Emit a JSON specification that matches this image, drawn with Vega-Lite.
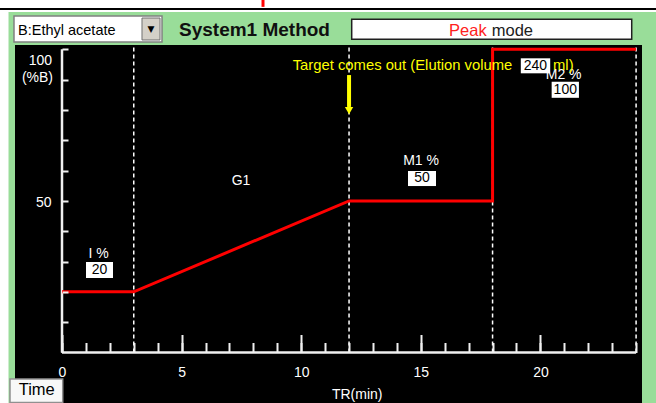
{
  "$schema": "https://vega.github.io/schema/vega-lite/v6.json",
  "width": 627,
  "height": 358,
  "autosize": "none",
  "padding": {"left": 15, "top": 45, "right": 14, "bottom": 0},
  "background": "white",
  "config": {"view": {"stroke": null}, "font": "Liberation Sans"},
  "layer": [
    {
      "data": {"values": [{}]},
      "mark": {"type": "rect", "color": "#99dd99"},
      "encoding": {
        "x": {"datum": -2.236, "type": "quantitative", "scale": {"domain": [-1.965, 24.247], "nice": false, "zero": false}, "axis": null},
        "x2": {"datum": 25},
        "y": {"datum": 112.3, "type": "quantitative", "scale": {"domain": [-16.66, 101.42], "nice": false, "zero": false}, "axis": null},
        "y2": {"datum": -17}
      }
    },
    {
      "data": {"values": [{}]},
      "mark": {"type": "rule", "color": "black", "strokeWidth": 2},
      "encoding": {
        "x": {"datum": -2.7, "type": "quantitative", "axis": null},
        "x2": {"datum": 25},
        "y": {"datum": 113.29, "type": "quantitative", "axis": null}
      }
    },
    {
      "data": {"values": [{}]},
      "mark": {"type": "rule", "color": "#ff0000", "strokeWidth": 3},
      "encoding": {
        "x": {"datum": 8.403, "type": "quantitative", "axis": null},
        "y": {"datum": 116.5, "type": "quantitative", "axis": null},
        "y2": {"datum": 114.0}
      }
    },
    {
      "data": {"values": [{}]},
      "mark": {"type": "rect", "color": "black"},
      "encoding": {
        "x": {"datum": -1.965, "type": "quantitative", "axis": null},
        "x2": {"datum": 24.247},
        "y": {"datum": 101.42, "type": "quantitative", "axis": null},
        "y2": {"datum": -17}
      }
    },
    {
      "data": {"values": [{"t": 3}, {"t": 12}, {"t": 18}, {"t": 24}]},
      "mark": {"type": "rule", "color": "white", "strokeWidth": 1.5, "strokeDash": [4, 3]},
      "encoding": {
        "x": {
          "field": "t", "type": "quantitative",
          "axis": {
            "orient": "top", "offset": -307.5, "domain": false, "grid": false, "labels": false,
            "values": [0,1,2,3,4,5,6,7,8,9,10,11,12,13,14,15,16,17,18,19,20,21,22,23,24],
            "tickSize": 10, "tickColor": "#f0f0f0", "tickWidth": 2,
            "title": null, "zindex": 1
          }
        },
        "y": {
          "datum": 0, "type": "quantitative",
          "axis": {
            "orient": "right", "offset": -580, "domain": false, "grid": false, "labels": false,
            "values": [10,20,30,40,50,60,70,80,90,100],
            "tickSize": 6, "tickColor": "#f0f0f0", "tickWidth": 2,
            "title": null, "zindex": 1
          }
        },
        "y2": {"datum": 101.4}
      }
    },
    {
      "data": {"values": [{}]},
      "mark": {"type": "rule", "color": "#f0f0f0", "strokeWidth": 2.5},
      "encoding": {
        "x": {"datum": 0, "type": "quantitative", "axis": null},
        "x2": {"datum": 24},
        "y": {"datum": 0, "type": "quantitative", "axis": null}
      }
    },
    {
      "data": {"values": [{}]},
      "mark": {"type": "rule", "color": "#f0f0f0", "strokeWidth": 2.5},
      "encoding": {
        "x": {"datum": 0, "type": "quantitative", "axis": null},
        "y": {"datum": 0, "type": "quantitative", "axis": null},
        "y2": {"datum": 100}
      }
    },
    {
      "data": {"values": [
        {"i": 0, "t": 0, "pct": 20},
        {"i": 1, "t": 3, "pct": 20},
        {"i": 2, "t": 12, "pct": 50},
        {"i": 3, "t": 18, "pct": 50},
        {"i": 4, "t": 18, "pct": 100},
        {"i": 5, "t": 24, "pct": 100}
      ]},
      "mark": {"type": "line", "color": "#ff0000", "strokeWidth": 3},
      "encoding": {
        "order": {"field": "i", "type": "quantitative"},
        "x": {
          "field": "t", "type": "quantitative",
          "scale": {"domain": [-1.965, 24.247], "nice": false, "zero": false},
          "axis": {
            "orient": "bottom", "offset": -50.5, "domain": false, "grid": false,
            "values": [0, 5, 10, 15, 20],
            "tickSize": -18, "tickColor": "#f0f0f0", "tickWidth": 2,
            "labelColor": "white", "labelFontSize": 14, "labelPadding": 31,
            "labelOverlap": false, "labelFlush": false, "labelBound": false,
            "title": "TR(min)", "titleColor": "white", "titleFontSize": 14, "titleFontWeight": "normal",
            "titleX": 341.7, "titleY": 41.5, "titleBaseline": "middle", "titleAnchor": "middle",
            "zindex": 1
          }
        },
        "y": {
          "field": "pct", "type": "quantitative",
          "scale": {"domain": [-16.66, 101.42], "nice": false, "zero": false},
          "axis": {
            "orient": "left", "offset": -47, "domain": false, "grid": false, "ticks": false,
            "values": [50],
            "labelColor": "white", "labelFontSize": 14, "labelPadding": 11, "labelOffset": 1.5,
            "labelOverlap": false, "labelFlush": false, "labelBound": false,
            "title": null,
            "zindex": 1
          }
        }
      }
    },
    {
      "data": {"values": [
        {"label": "100", "t": -0.418, "v": 96.14},
        {"label": "(%B)", "t": -0.376, "v": 90.53}
      ]},
      "mark": {"type": "text", "color": "white", "fontSize": 14, "baseline": "middle", "align": "right"},
      "encoding": {
        "x": {"field": "t", "type": "quantitative", "axis": null},
        "y": {"field": "v", "type": "quantitative", "axis": null},
        "text": {"field": "label"}
      }
    },
    {
      "data": {"values": [{}]},
      "mark": {"type": "rule", "color": "#ffff00", "strokeWidth": 4},
      "encoding": {
        "x": {"datum": 12, "type": "quantitative", "axis": null},
        "y": {"datum": 91.5, "type": "quantitative", "axis": null},
        "y2": {"datum": 81}
      }
    },
    {
      "data": {"values": [{}]},
      "mark": {"type": "point", "shape": "triangle-down", "filled": true, "color": "#ffff00", "opacity": 1, "size": 70},
      "encoding": {
        "x": {"datum": 12, "type": "quantitative", "axis": null},
        "y": {"datum": 79.8, "type": "quantitative", "axis": null}
      }
    },
    {
      "data": {"values": [
        {"name": "I %", "t1": 1.003, "t2": 2.132, "v1": 24.57, "v2": 29.85},
        {"name": "M1 %", "t1": 14.465, "t2": 15.635, "v1": 54.9, "v2": 59.86},
        {"name": "M2 %", "t1": 20.47, "t2": 21.61, "v1": 84.0, "v2": 89.3},
        {"name": "Elution volume", "t1": 19.18, "t2": 20.41, "v1": 92.08, "v2": 97.03}
      ]},
      "mark": {"type": "rect", "color": "white"},
      "encoding": {
        "x": {"field": "t1", "type": "quantitative", "axis": null},
        "x2": {"field": "t2"},
        "y": {"field": "v1", "type": "quantitative", "axis": null},
        "y2": {"field": "v2"}
      }
    },
    {
      "data": {"values": [
        {"value": "20", "t": 1.568, "v": 27.2},
        {"value": "50", "t": 15.05, "v": 57.4},
        {"value": "100", "t": 21.04, "v": 86.7},
        {"value": "240", "t": 19.787, "v": 94.5}
      ]},
      "mark": {"type": "text", "color": "black", "fontSize": 14, "baseline": "middle", "align": "center"},
      "encoding": {
        "x": {"field": "t", "type": "quantitative", "axis": null},
        "y": {"field": "v", "type": "quantitative", "axis": null},
        "text": {"field": "value"}
      }
    },
    {
      "data": {"values": [
        {"label": "I %", "t": 1.526, "v": 32.45},
        {"label": "G1", "t": 7.483, "v": 56.6},
        {"label": "M1 %", "t": 15.01, "v": 63.16},
        {"label": "M2 %", "t": 20.97, "v": 91.5}
      ]},
      "mark": {"type": "text", "color": "white", "fontSize": 14, "baseline": "middle", "align": "center"},
      "encoding": {
        "x": {"field": "t", "type": "quantitative", "axis": null},
        "y": {"field": "v", "type": "quantitative", "axis": null},
        "text": {"field": "label"}
      }
    },
    {
      "data": {"values": [
        {"label": "Target comes out (Elution volume", "t": 9.645, "v": 94.5},
        {"label": "ml)", "t": 20.527, "v": 94.5}
      ]},
      "mark": {"type": "text", "color": "#ffff00", "fontSize": 14.8, "baseline": "middle", "align": "left"},
      "encoding": {
        "x": {"field": "t", "type": "quantitative", "axis": null},
        "y": {"field": "v", "type": "quantitative", "axis": null},
        "text": {"field": "label"}
      }
    },
    {
      "data": {"values": [{}]},
      "mark": {"type": "rect", "fill": "white", "stroke": "#808080", "strokeWidth": 1.5},
      "encoding": {
        "x": {"datum": -2.007, "type": "quantitative", "axis": null},
        "x2": {"datum": 4.181},
        "y": {"datum": 110.98, "type": "quantitative", "axis": null},
        "y2": {"datum": 102.41}
      }
    },
    {
      "data": {"values": [{}]},
      "mark": {"type": "rect", "fill": "#d4d0c8", "stroke": "#707070", "strokeWidth": 1},
      "encoding": {
        "x": {"datum": 3.344, "type": "quantitative", "axis": null},
        "x2": {"datum": 4.097},
        "y": {"datum": 110.32, "type": "quantitative", "axis": null},
        "y2": {"datum": 103.07}
      }
    },
    {
      "data": {"values": [{"label": "▼"}]},
      "mark": {"type": "text", "color": "black", "fontSize": 9, "font": "DejaVu Sans", "baseline": "middle", "align": "center"},
      "encoding": {
        "x": {"datum": 3.721, "type": "quantitative", "axis": null},
        "y": {"datum": 106.7, "type": "quantitative", "axis": null},
        "text": {"field": "label"}
      }
    },
    {
      "data": {"values": [{"label": "B:Ethyl acetate"}]},
      "mark": {"type": "text", "color": "black", "fontSize": 14.5, "baseline": "middle", "align": "left"},
      "encoding": {
        "x": {"datum": -1.839, "type": "quantitative", "axis": null},
        "y": {"datum": 106.2, "type": "quantitative", "axis": null},
        "text": {"field": "label"}
      }
    },
    {
      "data": {"values": [{"label": "System1 Method"}]},
      "mark": {"type": "text", "color": "#101010", "fontSize": 19, "fontWeight": "bold", "baseline": "middle", "align": "left"},
      "encoding": {
        "x": {"datum": 4.891, "type": "quantitative", "axis": null},
        "y": {"datum": 106.4, "type": "quantitative", "axis": null},
        "text": {"field": "label"}
      }
    },
    {
      "data": {"values": [{}]},
      "mark": {"type": "rect", "fill": "white", "stroke": "#202020", "strokeWidth": 1.5},
      "encoding": {
        "x": {"datum": 12.111, "type": "quantitative", "axis": null},
        "x2": {"datum": 23.817},
        "y": {"datum": 109.9, "type": "quantitative", "axis": null},
        "y2": {"datum": 103.3}
      }
    },
    {
      "data": {"values": [{"label": "Peak"}]},
      "mark": {"type": "text", "color": "#ff2020", "fontSize": 16.5, "baseline": "middle", "align": "right"},
      "encoding": {
        "x": {"datum": 17.755, "type": "quantitative", "axis": null},
        "y": {"datum": 106.2, "type": "quantitative", "axis": null},
        "text": {"field": "label"}
      }
    },
    {
      "data": {"values": [{"label": "mode"}]},
      "mark": {"type": "text", "color": "#202020", "fontSize": 16.5, "baseline": "middle", "align": "left"},
      "encoding": {
        "x": {"datum": 17.964, "type": "quantitative", "axis": null},
        "y": {"datum": 106.2, "type": "quantitative", "axis": null},
        "text": {"field": "label"}
      }
    },
    {
      "data": {"values": [{}]},
      "mark": {"type": "rect", "fill": "#f8f8f8", "stroke": "#909090", "strokeWidth": 1.5},
      "encoding": {
        "x": {"datum": -2.174, "type": "quantitative", "axis": null},
        "x2": {"datum": 0.03},
        "y": {"datum": -8.74, "type": "quantitative", "axis": null},
        "y2": {"datum": -16.5}
      }
    },
    {
      "data": {"values": [{"label": "Time"}]},
      "mark": {"type": "text", "color": "black", "fontSize": 16.5, "baseline": "middle", "align": "center"},
      "encoding": {
        "x": {"datum": -1.058, "type": "quantitative", "axis": null},
        "y": {"datum": -12.53, "type": "quantitative", "axis": null},
        "text": {"field": "label"}
      }
    }
  ]
}
